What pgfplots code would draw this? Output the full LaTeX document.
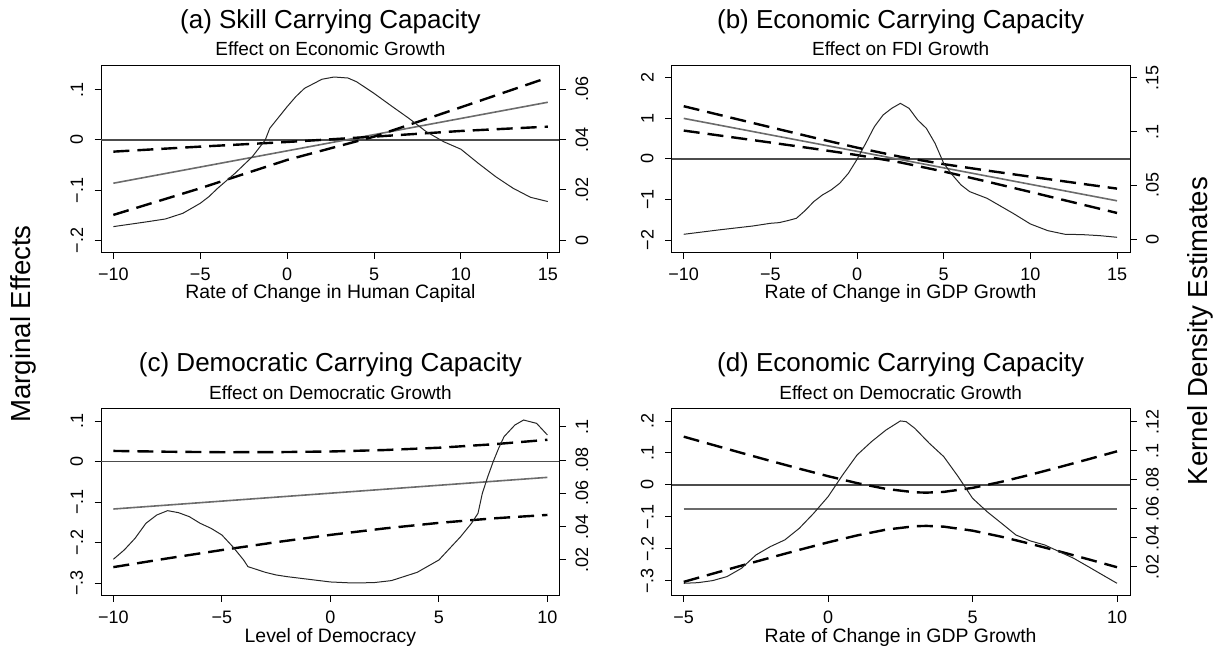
\documentclass[border=0pt]{standalone}
\usepackage{fontspec}
\setmainfont{Liberation Sans}
\usepackage{pgfplots}
\pgfplotsset{compat=1.18}
\pgfplotsset{
  base/.style={scale only axis, width=229.2pt, height=93.3pt, anchor=south west,
    tick align=outside, major tick length=3.3pt,
    every tick/.append style={black, line width=0.5pt},
    axis line style={black, line width=0.5pt},
    tick label style={font=\fontsize{9}{10}\selectfont},
    scaled ticks=false},
  L/.style={base, xtick pos=bottom, ytick pos=left,
    yticklabel style={xshift=-2.2pt, rotate=90, anchor=south},
    xticklabel style={yshift=-1.2pt}},
  R/.style={base, axis x line=none, axis y line*=right,
    yticklabel style={xshift=1.2pt, rotate=90, anchor=north}},
  dens/.style={black!85, line width=0.5pt},
  mean/.style={black!58, line width=0.8pt},
  ci/.style={black, line width=1.2pt, dash pattern=on 8pt off 4pt},
  zero/.style={black!70, line width=0.7pt},
}
\newcommand{\ttlf}{\fontsize{13}{15}\selectfont}
\newcommand{\subf}{\fontsize{9.5}{11}\selectfont}
\newcommand{\xlf}{\fontsize{9.7}{11}\selectfont}
\newcommand{\bigf}{\fontsize{13.8}{16}\selectfont}
\begin{document}
\begin{tikzpicture}
\path[use as bounding box] (0,0) rectangle (612pt,325.5pt);
% ---------------- (a)
\begin{axis}[L, at={(50.6pt,199.35pt)}, xmin=-10.70, xmax=15.68, ymin=-0.2233, ymax=0.1477,
  xtick={-10,-5,0,5,10,15}, xticklabels={−10,−5,0,5,10,15},
  ytick={-0.2,-0.1,0,0.1}, yticklabels={−.2,−.1,0,.1}]
\addplot[zero] coordinates {(-10.70,0) (15.68,0)};
\addplot[mean] coordinates {(-10,-0.086) (15,0.075)};
\addplot[ci] coordinates {(-10,-0.0232) (-5,-0.0132) (0,-0.004) (5,0.0066) (10,0.0179) (15,0.0265)};
\addplot[ci] coordinates {(-10,-0.149) (-5,-0.096) (0,-0.0397) (5,0.0066) (10,0.065) (15,0.124)};
\end{axis}
\begin{axis}[R, at={(50.6pt,199.35pt)}, xmin=-10.70, xmax=15.68, ymin=-0.00477, ymax=0.0694,
  ytick={0,0.02,0.04,0.06}, yticklabels={0,.02,.04,.06}]
\addplot[dens] coordinates {(-10,0.00543) (-8,0.00742) (-7,0.00848) (-6,0.01073) (-5,0.0147) (-4.5,0.01735) (-4,0.02066) (-3,0.02662) (-2,0.03325) (-1.26,0.03987) (-1,0.0445) (0,0.0531) (0.5,0.0571) (1,0.0604) (2,0.064) (2.7,0.0649) (3.5,0.0645) (4,0.063) (5,0.0584) (6,0.0534) (7,0.0485) (8,0.0432) (9,0.0392) (10,0.0362) (11,0.0306) (12,0.0253) (13,0.0207) (14,0.0171) (15,0.0154)};
\end{axis}
% ---------------- (b)
\begin{axis}[L, at={(335.8pt,199.35pt)}, xmin=-10.70, xmax=15.75, ymin=-2.299, ymax=2.299,
  xtick={-10,-5,0,5,10,15}, xticklabels={−10,−5,0,5,10,15},
  ytick={-2,-1,0,1,2}, yticklabels={−2,−1,0,1,2}]
\addplot[zero] coordinates {(-10.70,0) (15.75,0)};
\addplot[mean] coordinates {(-10,1.0) (15,-1.03)};
\addplot[ci] coordinates {(-10,1.300) (-7.5,1.041) (-5,0.783) (-2.5,0.527) (0,0.279) (2.5,0.055) (5,-0.127) (7.5,-0.285) (10,-0.436) (12.5,-0.583) (15,-0.730)};
\addplot[ci] coordinates {(-10,0.700) (-7.5,0.553) (-5,0.406) (-2.5,0.255) (0,0.097) (2.5,-0.085) (5,-0.309) (7.5,-0.557) (10,-0.812) (12.5,-1.071) (15,-1.330)};
\end{axis}
\begin{axis}[R, at={(335.8pt,199.35pt)}, xmin=-10.70, xmax=15.75, ymin=-0.01206, ymax=0.1611,
  ytick={0,0.05,0.1,0.15}, yticklabels={0,.05,.1,.15}]
\addplot[dens] coordinates {(-10,0.00464) (-8,0.00866) (-6,0.01237) (-5,0.01484) (-4.5,0.01546) (-4,0.01732) (-3.5,0.01948) (-3,0.02659) (-2.5,0.03494) (-2,0.04112) (-1.5,0.04576) (-1,0.05195) (-0.5,0.06122) (0,0.07421) (0.5,0.08905) (1,0.10451) (1.5,0.11533) (2,0.12152) (2.5,0.12615) (3,0.12152) (3.5,0.11069) (4,0.10296) (4.5,0.08905) (5,0.0705) (5.5,0.05968) (6,0.0504) (6.5,0.04422) (7,0.04112) (7.5,0.03803) (8,0.03339) (9,0.02412) (10,0.01422) (11,0.00804) (12,0.00464) (13,0.00433) (14,0.0034) (15,0.00186)};
\end{axis}
% ---------------- (c)
\begin{axis}[L, at={(50.6pt,27.85pt)}, xmin=-10.56, xmax=10.56, ymin=-0.330, ymax=0.1309,
  xtick={-10,-5,0,5,10}, xticklabels={−10,−5,0,5,10},
  ytick={-0.3,-0.2,-0.1,0,0.1}, yticklabels={−.3,−.2,−.1,0,.1}]
\addplot[zero] coordinates {(-10.56,0) (10.56,0)};
\addplot[mean] coordinates {(-10,-0.1169) (10,-0.0387)};
\addplot[ci] coordinates {(-10,0.0266) (-7.5,0.0246) (-5,0.0234) (-2.5,0.0236) (0,0.0252) (2.5,0.0288) (5,0.0345) (7.5,0.0430) (10,0.0541)};
\addplot[ci] coordinates {(-10,-0.2604) (-7.5,-0.2388) (-5,-0.2182) (-2.5,-0.1988) (0,-0.1808) (2.5,-0.1648) (5,-0.1511) (7.5,-0.1400) (10,-0.1315)};
\end{axis}
\begin{axis}[R, at={(50.6pt,27.85pt)}, xmin=-10.56, xmax=10.56, ymin=-0.0012, ymax=0.1108,
  ytick={0.02,0.04,0.06,0.08,0.1}, yticklabels={.02,.04,.06,.08,.1}]
\addplot[dens] coordinates {(-10,0.0204) (-9.5,0.026) (-9,0.033) (-8.5,0.042) (-8,0.047) (-7.5,0.0496) (-7,0.0484) (-6.5,0.046) (-6,0.042) (-5.5,0.039) (-5,0.035) (-4.5,0.028) (-4,0.02) (-3.8,0.016) (-3,0.0126) (-2.5,0.011) (-2,0.01) (-1,0.0084) (0,0.0068) (1,0.0062) (2,0.0064) (2.8,0.0076) (3,0.0084) (4,0.0126) (5,0.02) (5.5,0.027) (6,0.034) (6.5,0.042) (6.8,0.048) (7,0.06) (7.25,0.07) (7.5,0.079) (7.75,0.087) (8,0.094) (8.5,0.101) (8.9,0.104) (9.5,0.102) (10,0.095)};
\end{axis}
% ---------------- (d)
\begin{axis}[L, at={(335.8pt,27.85pt)}, xmin=-5.42, xmax=10.45, ymin=-0.345, ymax=0.2385,
  xtick={-5,0,5,10}, xticklabels={−5,0,5,10},
  ytick={-0.3,-0.2,-0.1,0,0.1,0.2}, yticklabels={−.3,−.2,−.1,0,.1,.2}]
\addplot[zero] coordinates {(-5.42,0) (10.45,0)};
\addplot[mean] coordinates {(-5,-0.076) (10,-0.076)};
\addplot[ci] coordinates {(-5,0.151) (-4,0.1255) (-3,0.1002) (-2,0.0753) (-1,0.0509) (0,0.0274) (1,0.0058) (2,-0.0123) (3,-0.0230) (3.4,-0.024) (4,-0.0217) (5,-0.0091) (6,0.0099) (7,0.0320) (8,0.0557) (9,0.0802) (10,0.1052)};
\addplot[ci] coordinates {(-5,-0.303) (-4,-0.2775) (-3,-0.2522) (-2,-0.2273) (-1,-0.2029) (0,-0.1794) (1,-0.1578) (2,-0.1397) (3,-0.1290) (3.4,-0.128) (4,-0.1303) (5,-0.1429) (6,-0.1619) (7,-0.1840) (8,-0.2077) (9,-0.2322) (10,-0.2572)};
\end{axis}
\begin{axis}[R, at={(335.8pt,27.85pt)}, xmin=-5.42, xmax=10.45, ymin=0.00022, ymax=0.129,
  ytick={0.02,0.04,0.06,0.08,0.1,0.12}, yticklabels={.02,.04,.06,.08,.1,.12}]
\addplot[dens] coordinates {(-5,0.0085) (-4.5,0.00895) (-4,0.01035) (-3.5,0.01315) (-3,0.01885) (-2.5,0.02805) (-2,0.03385) (-1.5,0.03845) (-1,0.04645) (-0.5,0.05685) (0,0.06835) (0.5,0.08325) (1,0.09705) (1.5,0.10625) (2,0.11425) (2.5,0.12055) (2.7,0.12005) (3,0.11545) (3.5,0.10515) (4,0.09595) (4.5,0.08215) (5,0.06715) (5.5,0.05795) (6,0.04995) (6.5,0.04185) (7,0.03775) (7.5,0.03495) (8,0.03035) (8.5,0.02575) (9,0.02005) (9.5,0.01425) (10,0.0085)};
\end{axis}
% ---------------- texts
\node[font=\ttlf, anchor=base] at (165.2pt,311.35pt) {(a) Skill Carrying Capacity};
\node[font=\subf, anchor=base] at (165.2pt,297.5pt) {Effect on Economic Growth};
\node[font=\xlf, anchor=base] at (165.2pt,176.35pt) {Rate of Change in Human Capital};
\node[font=\ttlf, anchor=base] at (450.3pt,311.35pt) {(b) Economic Carrying Capacity};
\node[font=\subf, anchor=base] at (450.3pt,297.5pt) {Effect on FDI Growth};
\node[font=\xlf, anchor=base] at (450.3pt,176.35pt) {Rate of Change in GDP Growth};
\node[font=\ttlf, anchor=base] at (165.2pt,139.65pt) {(c) Democratic Carrying Capacity};
\node[font=\subf, anchor=base] at (165.2pt,125.5pt) {Effect on Democratic Growth};
\node[font=\xlf, anchor=base] at (165.2pt,4.2pt) {Level of Democracy};
\node[font=\ttlf, anchor=base] at (450.3pt,139.65pt) {(d) Economic Carrying Capacity};
\node[font=\subf, anchor=base] at (450.3pt,125.5pt) {Effect on Democratic Growth};
\node[font=\xlf, anchor=base] at (450.3pt,4.2pt) {Rate of Change in GDP Growth};
\node[font=\bigf, rotate=90] at (11.5pt,163.5pt) {Marginal Effects};
\node[font=\bigf, rotate=90] at (600pt,160pt) {Kernel Density Estimates};
\end{tikzpicture}
\end{document}
